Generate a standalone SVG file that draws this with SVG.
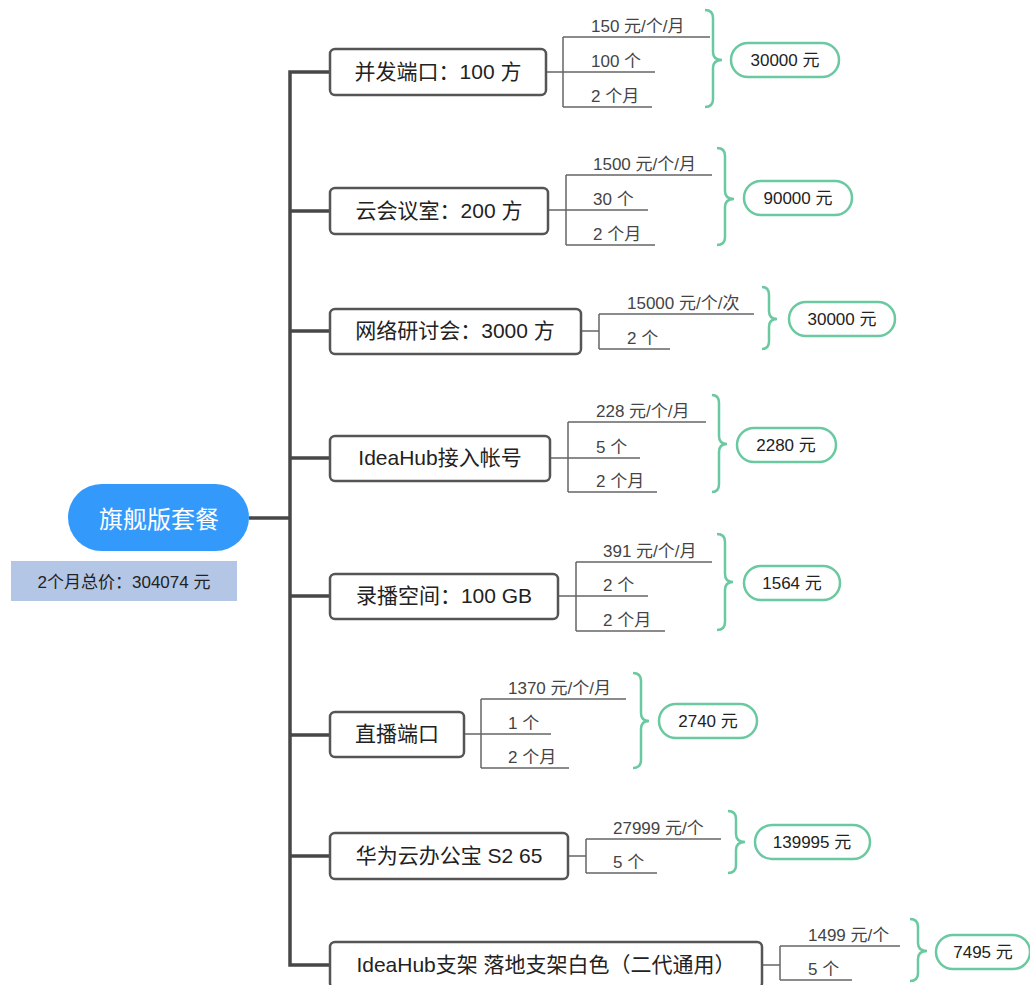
<svg xmlns="http://www.w3.org/2000/svg" width="1030" height="985" viewBox="0 0 1030 985">
<style>
text{font-family:"Liberation Sans","Noto Sans CJK SC",sans-serif}
.box{fill:#fff;stroke:#555;stroke-width:2.5}
.bt{font-size:21px;fill:#222;text-anchor:middle}
.st{font-size:17px;fill:#444}
.sl{stroke:#666;stroke-width:1.5;fill:none}
.trunk{stroke:#474747;stroke-width:3.5;fill:none}
.br{stroke:#6ac9a0;stroke-width:2.5;fill:none}
.pill{fill:#fff;stroke:#6ac9a0;stroke-width:2.5}
.pt{font-size:17px;fill:#222;text-anchor:middle}
</style>
<rect width="1030" height="985" fill="#fff"/>
<g id="connectors">
<path class="trunk" d="M330,72 H290 V965 H330"/>
<path class="trunk" d="M249,518 H290"/>
<path class="trunk" d="M290,211 H330 M290,331 H330 M290,458 H330 M290,596 H330 M290,735 H330 M290,856 H330"/>
<path class="sl" d="M546,72 H563 M563,37 V107"/>
<path class="sl" d="M548,210 H566 M566,175 V245"/>
<path class="sl" d="M581,331 H599 M599,314 V349"/>
<path class="sl" d="M550,458 H568 M568,422 V492"/>
<path class="sl" d="M558,596 H576 M576,562 V631"/>
<path class="sl" d="M464,734 H481 M481,699 V768"/>
<path class="sl" d="M568,856 H586 M586,839 V873"/>
<path class="sl" d="M762,965 H780 M780,946 V980"/>
</g>
<g id="root">
<rect x="68" y="484" width="181" height="67" rx="33.5" fill="#3399fb"/>
<text x="159" y="528" font-size="24" fill="#fff" text-anchor="middle">旗舰版套餐</text>
</g>
<g id="total">
<rect x="11" y="561" width="226" height="40" fill="#b4c6e6"/>
<text x="124" y="588" font-size="17" fill="#222" text-anchor="middle">2个月总价：304074 元</text>
</g>
<g id="n1">
<rect class="box" x="330" y="49" width="216" height="46" rx="5"/>
<text class="bt" x="438" y="79">并发端口：100 方</text>
<path class="sl" d="M563,37 H710 M563,72 H655 M563,107 H652"/>
<text class="st" x="591" y="32">150 元/个/月</text>
<text class="st" x="591" y="67">100 个</text>
<text class="st" x="591" y="102">2 个月</text>
<path class="br" d="M705,10 Q713,10 713,18 V52 Q713,60 722,60 Q713,60 713,68 V99 Q713,107 705,107"/>
<rect class="pill" x="731" y="43" width="108" height="34" rx="17"/>
<text class="pt" x="785" y="66">30000 元</text>
</g>
<g id="n2">
<rect class="box" x="330" y="188" width="218" height="46" rx="5"/>
<text class="bt" x="439" y="218">云会议室：200 方</text>
<path class="sl" d="M566,175 H712 M566,210 H648 M566,245 H655"/>
<text class="st" x="593" y="170">1500 元/个/月</text>
<text class="st" x="593" y="205">30 个</text>
<text class="st" x="593" y="240">2 个月</text>
<path class="br" d="M717,148 Q725,148 725,156 V191 Q725,199 734,199 Q725,199 725,207 V237 Q725,245 717,245"/>
<rect class="pill" x="744" y="181" width="108" height="34" rx="17"/>
<text class="pt" x="798" y="204">90000 元</text>
</g>
<g id="n3">
<rect class="box" x="330" y="309" width="251" height="45" rx="5"/>
<text class="bt" x="455" y="338">网络研讨会：3000 方</text>
<path class="sl" d="M599,314 H754 M599,349 H670"/>
<text class="st" x="627" y="309">15000 元/个/次</text>
<text class="st" x="627" y="344">2 个</text>
<path class="br" d="M762,287 Q769,287 769,295 V311 Q769,319 777,319 Q769,319 769,327 V341 Q769,349 762,349"/>
<rect class="pill" x="789" y="302" width="106" height="34" rx="17"/>
<text class="pt" x="842" y="325">30000 元</text>
</g>
<g id="n4">
<rect class="box" x="330" y="436" width="220" height="45" rx="5"/>
<text class="bt" x="440" y="465">IdeaHub接入帐号</text>
<path class="sl" d="M568,422 H706 M568,458 H640 M568,492 H657"/>
<text class="st" x="596" y="417">228 元/个/月</text>
<text class="st" x="596" y="453">5 个</text>
<text class="st" x="596" y="487">2 个月</text>
<path class="br" d="M712,395 Q719,395 719,403 V436 Q719,444 727,444 Q719,444 719,452 V484 Q719,492 712,492"/>
<rect class="pill" x="737" y="428" width="99" height="34" rx="17"/>
<text class="pt" x="786" y="451">2280 元</text>
</g>
<g id="n5">
<rect class="box" x="330" y="574" width="228" height="45" rx="5"/>
<text class="bt" x="444" y="603">录播空间：100 GB</text>
<path class="sl" d="M576,562 H712 M576,596 H648 M576,631 H665"/>
<text class="st" x="603" y="557">391 元/个/月</text>
<text class="st" x="603" y="591">2 个</text>
<text class="st" x="603" y="626">2 个月</text>
<path class="br" d="M717,534 Q725,534 725,542 V574 Q725,582 733,582 Q725,582 725,590 V622 Q725,630 717,630"/>
<rect class="pill" x="744" y="566" width="96" height="34" rx="17"/>
<text class="pt" x="792" y="589">1564 元</text>
</g>
<g id="n6">
<rect class="box" x="330" y="712" width="134" height="45" rx="5"/>
<text class="bt" x="397" y="741">直播端口</text>
<path class="sl" d="M481,699 H626 M481,734 H551 M481,768 H569"/>
<text class="st" x="508" y="694">1370 元/个/月</text>
<text class="st" x="508" y="729">1 个</text>
<text class="st" x="508" y="763">2 个月</text>
<path class="br" d="M633,673 Q641,673 641,681 V713 Q641,721 649,721 Q641,721 641,729 V760 Q641,768 633,768"/>
<rect class="pill" x="659" y="704" width="98" height="34" rx="17"/>
<text class="pt" x="708" y="727">2740 元</text>
</g>
<g id="n7">
<rect class="box" x="330" y="833" width="238" height="46" rx="5"/>
<text class="bt" x="449" y="863">华为云办公宝 S2 65</text>
<path class="sl" d="M586,839 H721 M586,873 H657"/>
<text class="st" x="613" y="834">27999 元/个</text>
<text class="st" x="613" y="868">5 个</text>
<path class="br" d="M728,811 Q736,811 736,819 V834 Q736,842 745,842 Q736,842 736,850 V865 Q736,873 728,873"/>
<rect class="pill" x="755" y="825" width="115" height="34" rx="17"/>
<text class="pt" x="812" y="848">139995 元</text>
</g>
<g id="n8">
<rect class="box" x="330" y="942" width="432" height="46" rx="5"/>
<text class="bt" x="546" y="972">IdeaHub支架 落地支架白色（二代通用）</text>
<path class="sl" d="M780,946 H900 M780,980 H852"/>
<text class="st" x="808" y="941">1499 元/个</text>
<text class="st" x="808" y="975">5 个</text>
<path class="br" d="M910,919 Q918,919 918,927 V943 Q918,951 927,951 Q918,951 918,959 V973 Q918,981 910,981"/>
<rect class="pill" x="936" y="935" width="94" height="34" rx="17"/>
<text class="pt" x="983" y="958">7495 元</text>
</g>
</svg>
